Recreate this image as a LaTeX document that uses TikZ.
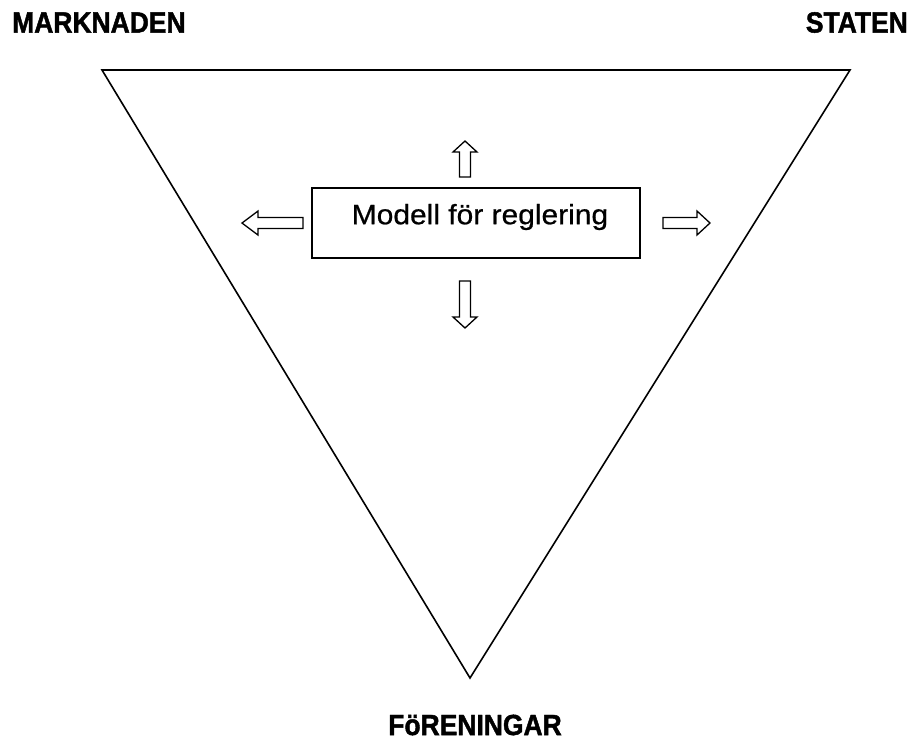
\documentclass[tikz,border=0pt]{standalone}
\usepackage{fontspec}
\setmainfont{Liberation Sans}
\newfontfamily\heavyfont[FakeBold=1.6]{Liberation Sans Bold}
\newfontfamily\bookfont[FakeBold=0.6]{Liberation Sans}
\begin{document}
\begin{tikzpicture}[x=1pt,y=-1pt,
  lbl/.style={font=\fontsize{27}{30}\heavyfont, inner sep=0pt},
  boxst/.style={draw, line width=1.8pt, minimum width=328pt, minimum height=70pt, inner sep=0pt},
  blockarrow/.style={draw, line width=1.3pt, fill=white, line join=miter}]
\useasboundingbox (0,0) rectangle (911,740);
% triangle
\coordinate (tl) at (102,70);
\coordinate (tr) at (850,70);
\coordinate (bt) at (470,678);
\draw[line width=1.6pt, line join=miter] (tl) -- (tr) -- (bt) -- cycle;
% labels
\node[lbl, anchor=west] (mark) at (12,22.5) {\scalebox{0.98}[1.08]{MARKNADEN}};
\node[lbl, anchor=east] (stat) at (908,22.5) {\scalebox{0.98}[1.08]{STATEN}};
\node[lbl] (foren) at (475,725) {\scalebox{0.98}[1.08]{FöRENINGAR}};
% box
\node[boxst] (box) at (476,223) {};
\node[inner sep=0pt, font=\fontsize{28}{30}\bookfont] (txt) at (480,217) {\scalebox{1.07}[1]{Modell för reglering}};
% up arrow
\draw[blockarrow] (459.5,177) -- (459.5,152) -- (453,152) -- (465,141) -- (477,152) -- (470.5,152) -- (470.5,177) -- cycle;
% down arrow
\draw[blockarrow] (459.5,281) -- (459.5,317) -- (453,317) -- (465,328) -- (477,317) -- (470.5,317) -- (470.5,281) -- cycle;
% left arrow
\draw[blockarrow] (303,217.5) -- (258,217.5) -- (258,211) -- (242,223) -- (258,235) -- (258,228.5) -- (303,228.5) -- cycle;
% right arrow
\draw[blockarrow] (663,217.5) -- (697,217.5) -- (697,211) -- (710,223) -- (697,235) -- (697,228.5) -- (663,228.5) -- cycle;
\end{tikzpicture}
\end{document}
